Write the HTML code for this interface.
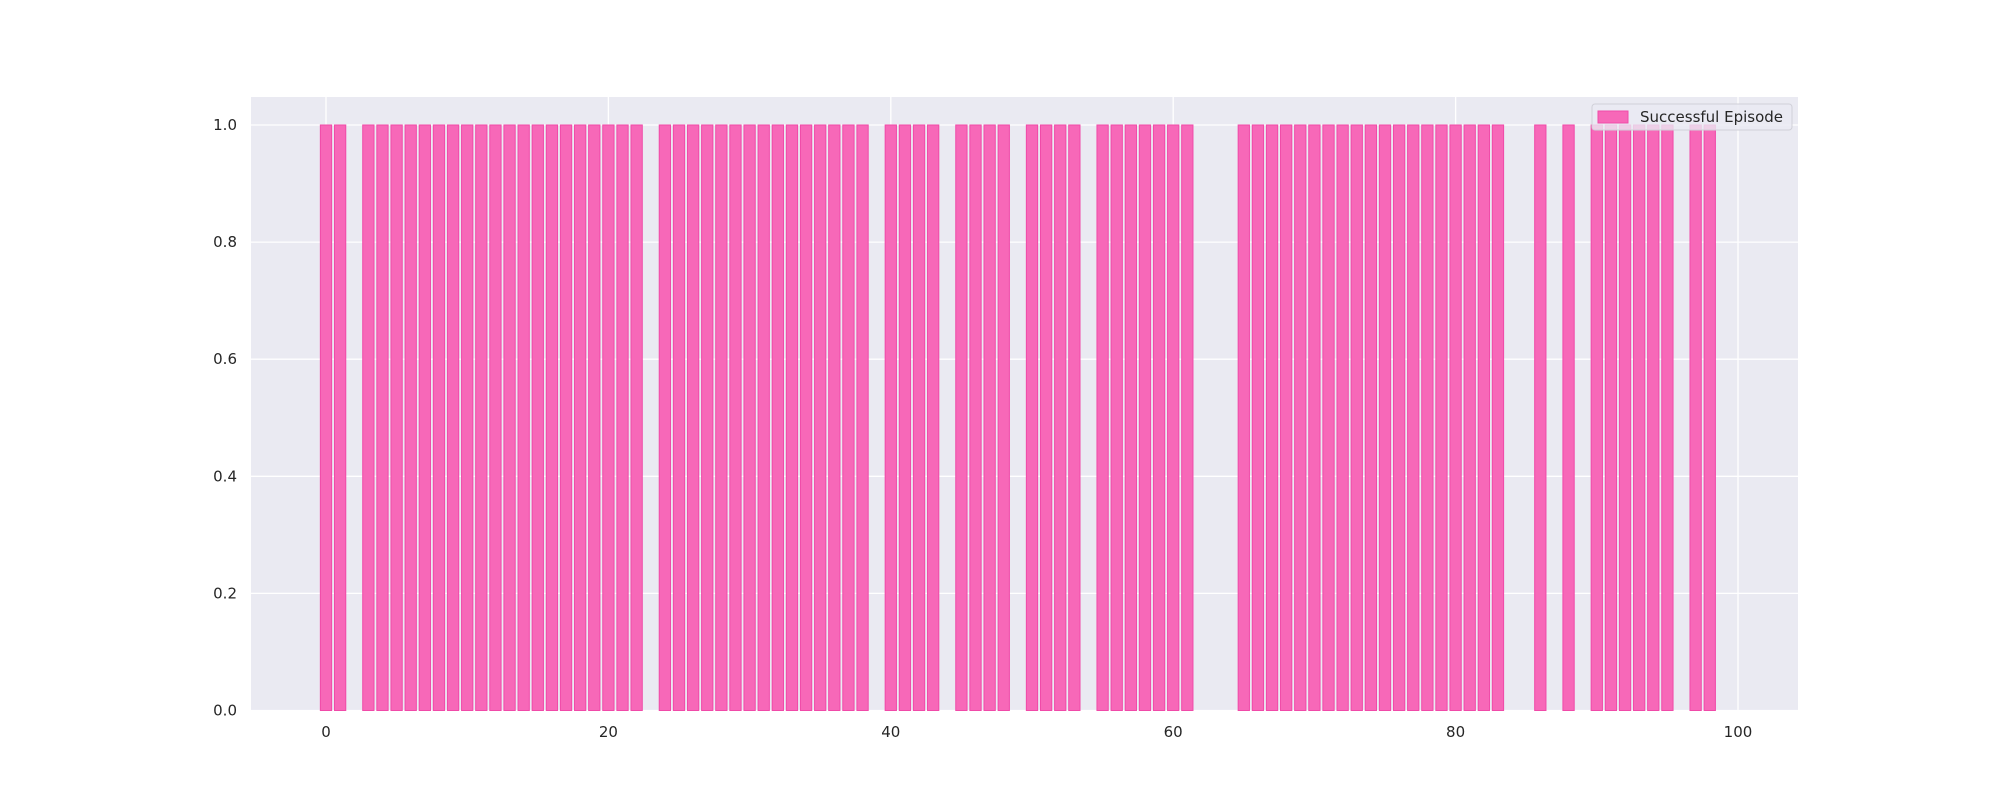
<!DOCTYPE html>
<html><head><meta charset="utf-8"><style>
body{margin:0;background:#fff;}
svg text{font-family:"DejaVu Sans","Liberation Sans",sans-serif;fill:#262626;}
</style></head><body>
<svg id="chart" width="2000" height="800" xmlns="http://www.w3.org/2000/svg">
<rect x="251" y="97" width="1547" height="614" fill="#eaeaf2"/>
<g id="grid"></g>
<g id="bars"></g>
<g id="ticks"></g>
<g>
<rect x="1592" y="104" width="200" height="26" rx="3" fill="#eaeaf2" fill-opacity="0.8" stroke="#d0d0d8"/>
<rect x="1598" y="111" width="30" height="12" fill="#f768b8" stroke="#f04aa8"/>
<text x="1640" y="122" font-size="15">Successful Episode</text>
</g>
</svg>
<script>
const episodes = Array.from({length:100},(_,i)=>i);
const missing = [2,23,39,44,49,54,62,63,64,84,85,87,89,96,99];
const success = episodes.map(i=>missing.includes(i)?0:1);
const xTicks = [0,20,40,60,80,100];
const yTicks = [0.0,0.2,0.4,0.6,0.8,1.0];
const NS="http://www.w3.org/2000/svg";
const X0=251,X1=1798,Y0=97,Y1=711;
const xs=v=>326+(v/100)*(1738-326);
const ys=v=>710.5-v*(710.5-125);
const grid=document.getElementById('grid'),bars=document.getElementById('bars'),ticks=document.getElementById('ticks');
function mk(t,a){const e=document.createElementNS(NS,t);for(const k in a)e.setAttribute(k,a[k]);return e;}
xTicks.forEach(v=>{
 const l=mk('line',{x1:xs(v),x2:xs(v),y1:Y0,y2:Y1,stroke:'#fff','stroke-width':1.3});
 
 
 grid.appendChild(l);
 const t=mk('text',{x:xs(v),y:737,'font-size':15,'text-anchor':'middle'});t.textContent=v;
 
 
 ticks.appendChild(t);
});
yTicks.forEach(v=>{
 const l=mk('line',{x1:X0,x2:X1,y1:ys(v),y2:ys(v),stroke:'#fff','stroke-width':1.3});
 
 
 grid.appendChild(l);
 const t=mk('text',{x:237,y:ys(v)+5,'font-size':15,'text-anchor':'end'});t.textContent=v.toFixed(1);
 
 
 ticks.appendChild(t);
});
episodes.forEach((e,i)=>{
 if(!success[i])return;
 const x=xs(e-0.4),w=xs(e+0.4)-x;
 const r=mk('rect',{x:x,y:ys(success[i]),width:w,height:ys(0)-ys(success[i]),fill:'#f768b8',stroke:'#f04aa8','stroke-width':1});
 
 
 bars.appendChild(r);
});
</script>
</body></html>
